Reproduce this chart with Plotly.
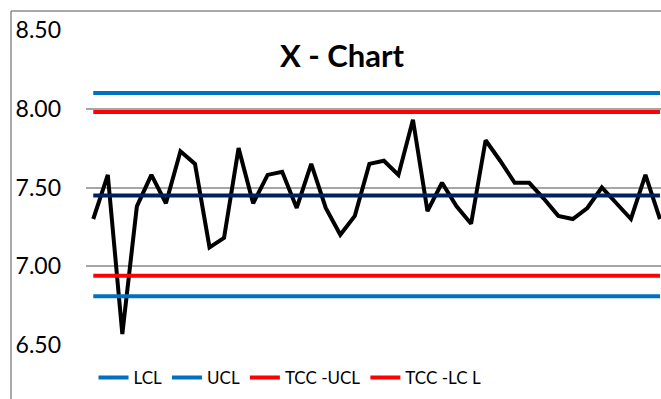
import plotly.graph_objects as go

# Subgroup averages (X-bar) for each sample
samples = list(range(1, 41))
xbar = [7.30, 7.58, 6.57, 7.38, 7.58, 7.40, 7.73, 7.65, 7.12, 7.18,
        7.75, 7.40, 7.58, 7.60, 7.37, 7.65, 7.37, 7.20, 7.32, 7.65,
        7.67, 7.58, 7.93, 7.35, 7.53, 7.38, 7.27, 7.80, 7.67, 7.53,
        7.53, 7.43, 7.32, 7.30, 7.37, 7.50, 7.40, 7.30, 7.58, 7.30]

# Control limits
center = 7.45
lcl = 6.81
ucl = 8.10
tcc_ucl = 7.98
tcc_lcl = 6.94

y_ticks = [6.5, 7.0, 7.5, 8.0, 8.5]
y_tick_text = ["6.50", "7.00", "7.50", "8.00", "8.50"]

BLUE = "#0070C0"
RED = "#FF0000"
NAVY = "#002060"
n = len(samples)
xs = list(range(n))

fig = go.Figure()
fig.add_trace(go.Scatter(x=xs, y=xbar, mode="lines", showlegend=False,
                         line=dict(color="black", width=4)))
fig.add_trace(go.Scatter(x=xs, y=[center] * n, mode="lines", showlegend=False,
                         line=dict(color=NAVY, width=4)))
fig.add_trace(go.Scatter(x=xs, y=[lcl] * n, mode="lines", name="LCL",
                         line=dict(color=BLUE, width=4)))
fig.add_trace(go.Scatter(x=xs, y=[ucl] * n, mode="lines", name="UCL",
                         line=dict(color=BLUE, width=4)))
fig.add_trace(go.Scatter(x=xs, y=[tcc_ucl] * n, mode="lines", name="TCC -UCL",
                         line=dict(color=RED, width=4)))
fig.add_trace(go.Scatter(x=xs, y=[tcc_lcl] * n, mode="lines", name="TCC -LC L",
                         line=dict(color=RED, width=4)))

L, T, B = 86, 30, 54
W, H = 661, 399
pw, ph = W - L, H - T - B

fig.update_layout(
    width=W, height=H,
    margin=dict(l=L, r=0, t=T, b=B, pad=0),
    paper_bgcolor="white", plot_bgcolor="white",
    font=dict(family="Lato", color="black"),
    title=dict(text="<b>X - Chart</b>", x=(342) / W, xanchor="center",
               y=1 - 56 / H, yanchor="middle",
               font=dict(family="Lato", size=31, color="black")),
    xaxis=dict(range=[-0.5, 39.07], showgrid=False, showticklabels=False,
               zeroline=False, showline=False, ticks=""),
    yaxis=dict(range=[6.5, 8.5], tickvals=y_ticks, ticktext=y_tick_text,
               showgrid=True, gridcolor="#a6a6a6", gridwidth=2,
               zeroline=False, showline=False, ticks="",
               ticklabelstandoff=24,
               tickfont=dict(family="Lato", size=23, color="black")),
    legend=dict(orientation="h", x=(290 - L) / pw, xanchor="center",
                y=-(378 - (H - B)) / ph, yanchor="middle",
                font=dict(family="Lato", size=17, color="black"),
                bgcolor="rgba(0,0,0,0)", itemwidth=30),
    shapes=[
        dict(type="line", xref="paper", yref="paper",
             x0=(11 - L) / pw, x1=(11 - L) / pw, y0=-0.3, y1=(H - B - 11) / ph,
             line=dict(color="#8c8c8c", width=1.5)),
        dict(type="line", xref="paper", yref="paper",
             x0=(11 - L) / pw, x1=1.1, y0=(H - B - 11) / ph, y1=(H - B - 11) / ph,
             line=dict(color="#8c8c8c", width=1.5)),
    ],
)

fig.write_html("out.html")
